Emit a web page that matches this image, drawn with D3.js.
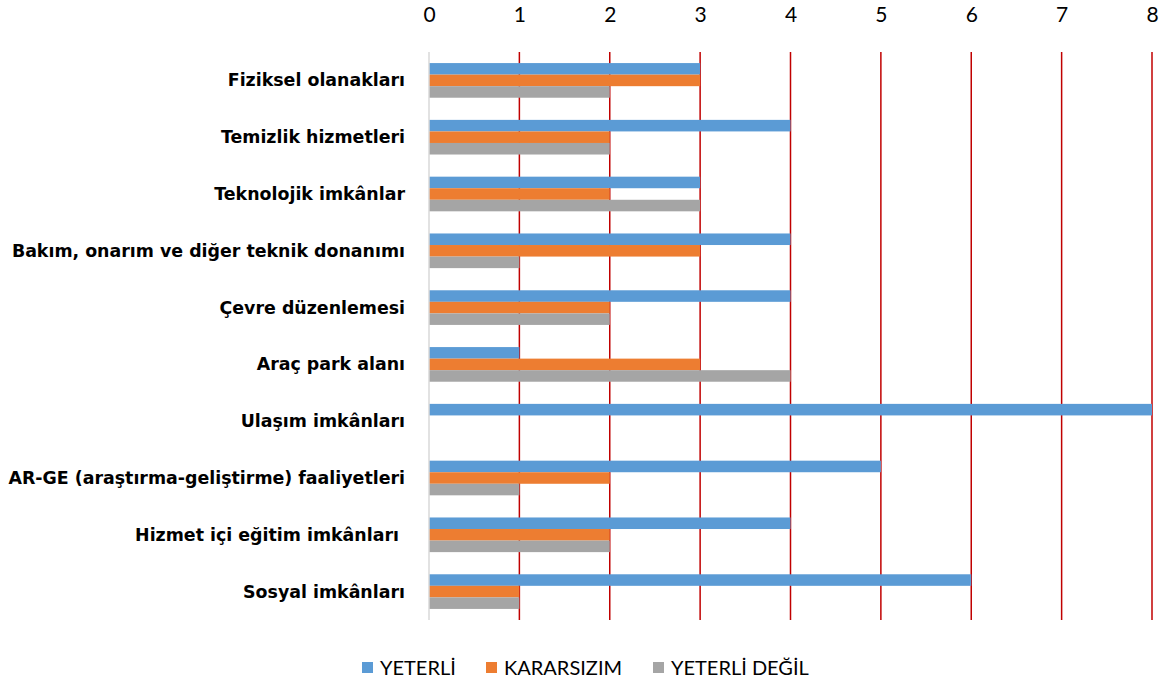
<!DOCTYPE html>
<html>
<head>
<meta charset="utf-8">
<script src="https://cdn.jsdelivr.net/npm/d3@7"></script>
<style>
  body { margin: 0; background: #fff; }
  svg { font-family: Lato, "Open Sans", sans-serif; }
  .cat-label { font-family: "DejaVu Sans", sans-serif; font-weight: bold; white-space: pre; }
</style>
</head>
<body>
<svg id="chart" width="1164" height="691"></svg>
<script>
// Chart data
const categories = [
  'Fiziksel olanakları',
  'Temizlik hizmetleri',
  'Teknolojik imkânlar',
  'Bakım, onarım ve diğer teknik donanımı',
  'Çevre düzenlemesi',
  'Araç park alanı',
  'Ulaşım imkânları',
  'AR-GE (araştırma-geliştirme) faaliyetleri',
  'Hizmet içi eğitim imkânları ',
  'Sosyal imkânları'
];
const seriesNames = ['YETERLİ', 'KARARSIZIM', 'YETERLİ DEĞİL'];
const yeterli = [3, 4, 3, 4, 4, 1, 8, 5, 4, 6];
const kararsizim = [3, 2, 2, 3, 2, 3, 0, 2, 2, 1];
const yeterliDegil = [2, 2, 3, 1, 2, 4, 0, 1, 2, 1];
const xTicks = [0, 1, 2, 3, 4, 5, 6, 7, 8];

const seriesColors = ['#5B9BD5', '#ED7D31', '#A5A5A5'];
const seriesValues = [yeterli, kararsizim, yeterliDegil];

const svg = d3.select('#chart');
const margin = {top: 52, left: 429, right: 12, bottom: 71};
const width = 1164 - margin.left - margin.right;
const height = 691 - margin.top - margin.bottom;

const g = svg.append('g').attr('transform', `translate(${margin.left},${margin.top})`);

let x = d3.scaleLinear().domain([0, 8]).range([0, width]);
let y = d3.scaleBand().domain(categories).range([0, height]).paddingInner(0.39).paddingOuter(0.195);
let ySub = d3.scaleBand().domain(d3.range(seriesNames.length)).range([0, y.bandwidth()]);

// red gridlines
g.selectAll('.grid')
  .data(xTicks.filter(d => d > 0))
  .enter().append('line')
  .attr('x1', d => x(d)).attr('x2', d => x(d))
  .attr('y1', 0).attr('y2', height)
  .attr('stroke', '#C00000')
  .attr('stroke-width', 1.5);

// axis on top, text only
let xAxis = g.append('g').call(d3.axisTop(x).tickValues(xTicks).tickSize(0).tickPadding(30));
xAxis.select('.domain').remove();
xAxis.selectAll('text')
  .attr('font-size', 21)
  .attr('font-family', 'Lato, "Open Sans", sans-serif')
  .attr('fill', '#000');

// bars
categories.forEach((cat, i) => {
  seriesValues.forEach((vals, s) => {
    g.append('rect')
      .attr('x', x(0))
      .attr('y', y(cat) + ySub(s))
      .attr('width', x(vals[i]) - x(0))
      .attr('height', ySub.bandwidth())
      .attr('fill', seriesColors[s]);
  });
});

// zero line
g.append('line')
  .attr('x1', x(0)).attr('x2', x(0))
  .attr('y1', 0).attr('y2', height)
  .attr('stroke', '#D9D9D9')
  .attr('stroke-width', 1.5);

// category labels
g.selectAll('.cat-label')
  .data(categories)
  .enter().append('text')
  .attr('class', 'cat-label')
  .attr('x', -24)
  .attr('y', d => y(d) + y.bandwidth() / 2)
  .attr('dy', '0.35em')
  .attr('text-anchor', 'end')
  .attr('font-size', 17.4)
  .text(d => d);

// legend
const legend = svg.append('g').attr('transform', 'translate(362,668)');
let legendX = [0, 124, 291];
seriesNames.forEach((name, s) => {
  let item = legend.append('g').attr('transform', `translate(${legendX[s]},0)`);
  item.append('rect')
    .attr('x', 0).attr('y', -6)
    .attr('width', 11).attr('height', 11)
    .attr('fill', seriesColors[s]);
  item.append('text')
    .attr('x', 18).attr('y', 0)
    .attr('dy', '0.35em')
    .attr('font-size', 20)
    .attr('fill', '#000')
    .text(name);
});
</script>
</body>
</html>
